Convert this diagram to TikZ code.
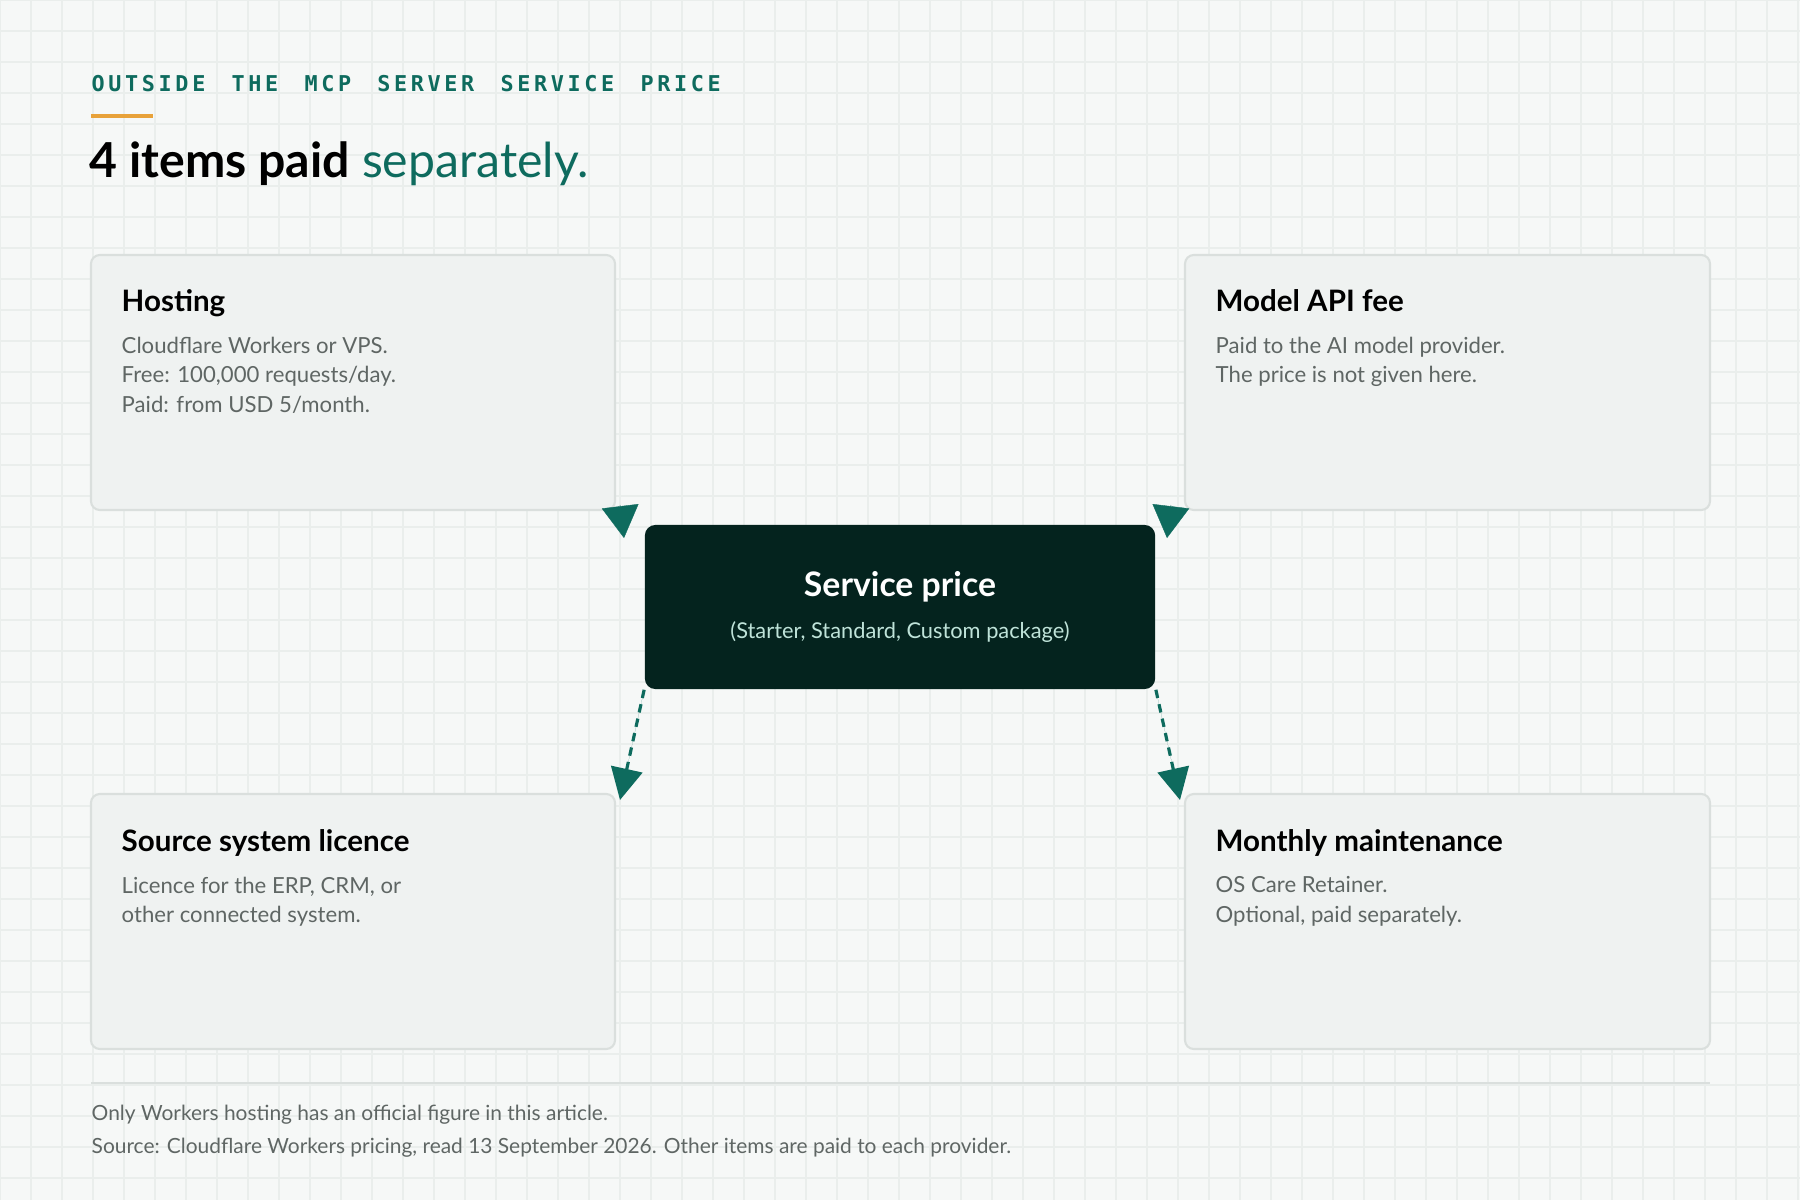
\documentclass[tikz,border=0pt]{standalone}
\usepackage{fontspec}
\setmainfont{Lato}
\newfontfamily\monof{DejaVu Sans Mono}
\usetikzlibrary{arrows.meta,calc}
\definecolor{bg}{HTML}{F6F8F7}
\definecolor{gridc}{HTML}{EAEEEC}
\definecolor{teal}{HTML}{0E6B5E}
\definecolor{dark}{HTML}{04231E}
\definecolor{boxf}{HTML}{EFF2F1}
\definecolor{boxd}{HTML}{DADFDD}
\definecolor{gtext}{HTML}{5F6664}
\definecolor{orangec}{HTML}{E8A23A}
\definecolor{mint}{HTML}{BFE3D9}
\begin{document}
\begin{tikzpicture}[x=0.01cm,y=-0.01cm,
  card/.style={draw=boxd,line width=0.6pt,fill=boxf,rounded corners=2.5pt},
  ttl/.style={anchor=base west,font=\fontsize{8.4}{10}\selectfont\bfseries,text=black,inner sep=0},
  body/.style={anchor=north west,font=\fontsize{6.3}{8.5}\selectfont,text=gtext,inner sep=0,align=left},
  foot/.style={anchor=base west,font=\fontsize{5.95}{7}\selectfont,text=gtext,inner sep=0},
  tip/.style={-{Triangle[length=9.1pt,width=10.5pt]},draw=teal,fill=teal,line width=0.1pt},
  dashed arrow/.style={-{Triangle[length=9pt,width=9pt]},draw=teal,fill=teal,line width=0.9pt,dash pattern=on 2.4pt off 1.8pt}]
\fill[bg] (0,0) rectangle (1800,1200);
\useasboundingbox (0,0) rectangle (1800,1200);
\foreach \i in {0,31,...,1800} \draw[gridc,line width=0.3pt] (\i,0) -- (\i,1200);
\foreach \i in {0,31,...,1200} \draw[gridc,line width=0.3pt] (0,\i) -- (1800,\i);
% header
\node[anchor=base west,inner sep=0,text=teal,font=\monof\fontsize{6.2}{7}\selectfont\bfseries] (kick) at (91,91) {O\,U\,T\,S\,I\,D\,E\ \ T\,H\,E\ \ M\,C\,P\ \ S\,E\,R\,V\,E\,R\ \ S\,E\,R\,V\,I\,C\,E\ \ P\,R\,I\,C\,E};
\draw[orangec,line width=1.1pt] (91,116) -- (153,116);
\node[anchor=base west,inner sep=0,font=\fontsize{13.7}{16}\selectfont] (head) at (89,177) {\textbf{4 items paid} \textcolor{teal}{separately.}};
% cards
\path[card] (91,255) rectangle (615,510);
\node[ttl] (ht) at (121,311) {Hosting};
\node[body] (hb) at (121,336) {Cloudflare Workers or VPS.\\Free: 100,000 requests/day.\\Paid: from USD 5/month.};
\path[card] (1185,255) rectangle (1710,510);
\node[ttl] (mt) at (1215,311) {Model API fee};
\node[body] (mb) at (1215,336) {Paid to the AI model provider.\\The price is not given here.};
\path[card] (91,794) rectangle (615,1049);
\node[ttl] (st) at (121,851) {Source system licence};
\node[body] (sb) at (121,876) {Licence for the ERP, CRM, or\\other connected system.};
\path[card] (1185,794) rectangle (1710,1049);
\node[ttl] (ot) at (1215,851) {Monthly maintenance};
\node[body] (ob) at (1215,876) {OS Care Retainer.\\Optional, paid separately.};
% corner coordinates
\coordinate (hse) at (620,505); \coordinate (t1) at (624,538);
\coordinate (mse) at (1171,505); \coordinate (t2) at (1167,538);
% service box
\node[fill=dark,rounded corners=3pt,minimum width=5.1cm,minimum height=1.64cm,inner sep=0] (svc) at (900,607) {};
\node[anchor=base,font=\fontsize{9.6}{10}\selectfont\bfseries,text=white,inner sep=0] (sp) at (900,596) {Service price};
\node[anchor=base,font=\fontsize{6.2}{7}\selectfont,text=mint,inner sep=0] (sub) at (900,638) {(Starter, Standard, Custom package)};
% arrows
\draw[tip] (hse) -- (t1);
\draw[tip] (mse) -- (t2);
\coordinate (bl) at (620,800); \coordinate (br) at (1180,800);
\draw[dashed arrow] (svc.south west) -- (bl);
\draw[dashed arrow] (svc.south east) -- (br);
% footer
\draw[boxd,line width=0.6pt] (91,1083) -- (1710,1083);
\node[foot] (f1) at (91,1120) {Only Workers hosting has an official figure in this article.};
\node[foot] (f2) at (91,1153) {Source: Cloudflare Workers pricing, read 13 September 2026. Other items are paid to each provider.};
\end{tikzpicture}
\end{document}
